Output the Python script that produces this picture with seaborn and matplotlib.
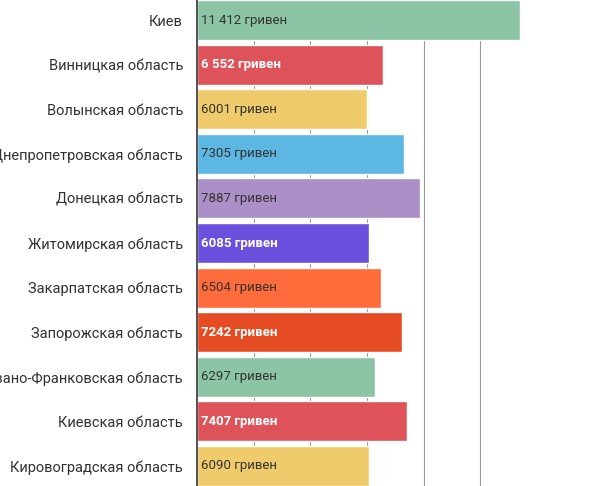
import matplotlib
matplotlib.use("Agg")
import pandas as pd
import seaborn as sns
import matplotlib.pyplot as plt

regions = ['Киев', 'Винницкая область', 'Волынская область', 'Днепропетровская область',
           'Донецкая область', 'Житомирская область', 'Закарпатская область',
           'Запорожская область', 'Ивано-Франковская область', 'Киевская область',
           'Кировоградская область']
salaries = [11412, 6552, 6001, 7305, 7887, 6085, 6504, 7242, 6297, 7407, 6090]
labels = ['11 412 гривен', '6 552 гривен', '6001 гривен', '7305 гривен', '7887 гривен',
          '6085 гривен', '6504 гривен', '7242 гривен', '6297 гривен', '7407 гривен',
          '6090 гривен']
colors = ['#8cc5a6', '#de5359', '#f0cb6b', '#5db7e3', '#ab8fc7', '#6b50dd',
          '#ff6b3a', '#e54c24', '#8cc5a6', '#de5359', '#f0cb6b']
white_text = [False, True, False, False, False, True, False, True, False, True, False]

df = pd.DataFrame({'region': regions, 'salary': salaries})

sns.set_theme(style='white')
plt.rcParams['font.family'] = ['Roboto', 'DejaVu Sans']

fig = plt.figure(figsize=(5.92, 4.86), dpi=100)
ax = fig.add_axes([197 / 592, 0, 1 - 197 / 592, 1])
sns.barplot(data=df, y='region', x='salary', hue='region', palette=colors,
            legend=False, width=0.9, ax=ax, saturation=1)

for i, (lab, w) in enumerate(zip(labels, white_text)):
    ax.text(150, i, lab, va='center', ha='left', fontsize=9.5,
            color='white' if w else '#333333', fontweight='bold' if w else 'normal')

ax.set_xlim(0, 13950)
ax.set_ylim(10.45, -0.45)
ax.set_xticks([2000, 4000, 6000, 8000, 10000])
ax.xaxis.grid(True, color='#999999', linewidth=0.8)
ax.set_axisbelow(True)
ax.set_xticklabels([])
ax.tick_params(axis='x', length=0)
ax.tick_params(axis='y', length=0, labelsize=10.5, labelcolor='#333333', pad=10)
ax.set_xlabel(None)
ax.set_ylabel(None)
for s in ['top', 'right', 'bottom']:
    ax.spines[s].set_visible(False)
ax.spines['left'].set_color('#333333')
ax.spines['left'].set_linewidth(1.2)

fig.savefig('out.png', dpi=100)
